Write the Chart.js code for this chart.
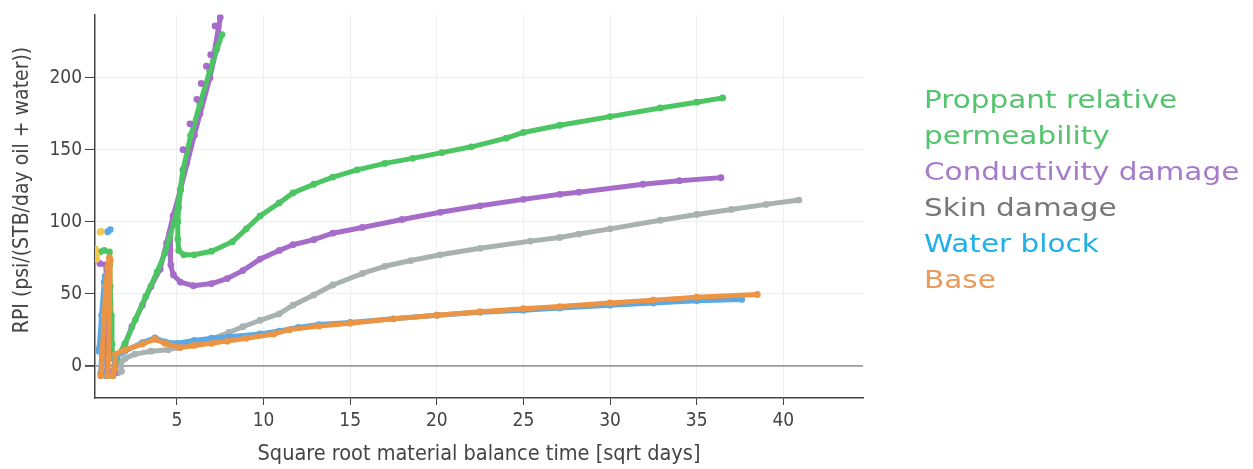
<!DOCTYPE html>
<html>
<head>
<meta charset="utf-8">
<script src="https://cdn.jsdelivr.net/npm/chart.js@4"></script>
<style>
  body { margin: 0; background: #fff; }
  #wrap { position: relative; width: 1253px; height: 469px; }
  #legend { position: absolute; left: 924px; top: 82px; font-family: "DejaVu Sans", sans-serif; font-size: 25px; line-height: 36px;
            transform: scaleX(1.18); transform-origin: left top; white-space: nowrap; }
</style>
</head>
<body>
<div id="wrap">
  <canvas id="myChart" width="1253" height="469"></canvas>
  <div id="legend">
    <div style="color:#55c46e">Proppant relative<br>permeability</div>
    <div style="color:#a77bcb">Conductivity damage</div>
    <div style="color:#777777">Skin damage</div>
    <div style="color:#1fb0e8">Water block</div>
    <div style="color:#eb9a5a">Base</div>
  </div>
</div>
<script>
// values, in drawing order along each curve
const proppantX = [0.55, 0.8, 1.1, 1.12, 1.15, 1.2, 1.25, 1.3, 1.5, 2.0, 2.6, 3.2, 3.85, 4.3, 4.6, 5.0, 5.35, 5.8, 6.33, 6.9, 7.3, 7.6,
  6.9, 6.33, 5.8, 5.35, 5.1, 5.05, 5.05, 5.1, 5.4, 6.0, 7.0, 8.2, 9.0, 9.8, 10.9, 11.7, 12.9, 14, 15.4, 17, 18.6, 20.3, 22, 24, 25, 27.1, 30, 32.9, 35, 36.5];
const proppantY = [79, 80, 79, 70, 55, 35, 15, 5, 4, 15, 32, 48, 65, 78, 90, 107, 136, 160, 182, 205, 220, 230,
  205, 182, 160, 136, 110, 100, 88, 80, 77, 77, 79.5, 86, 95, 104, 113, 120, 126, 131, 136, 140.5, 144, 148, 152, 158, 162, 167, 173, 179, 183, 186];

const conductX = [0.55, 0.9, 0.95, 0.9, 1.0, 1.4, 1.5, 2.0, 2.4, 3.0, 3.5, 4.03, 4.4, 4.78, 5.2, 5.57, 6.0, 6.33, 6.9, 7.3, 7.5,
  6.9, 6.0, 5.2, 4.78, 4.6, 4.6, 4.65, 4.8, 5.2, 5.95, 7.0, 7.9, 8.8, 9.8, 10.9, 11.7, 12.9, 14, 15.7, 18, 20.2, 22.5, 25, 27.1, 28.2, 31.9, 34, 36.4];
const conductY = [71, 70, 40, 15, -3, -5, 5, 15, 27, 42, 55, 67, 85, 104, 122, 141, 160, 175, 200, 221, 242,
  200, 160, 122, 104, 92, 80, 70, 63, 58, 55.5, 57, 60.5, 66, 74, 80, 84, 87.5, 92, 96, 101.5, 106.5, 111, 115.5, 119, 120.5, 126, 128.5, 130.6];
// loose purple dots scattered beside the steep branch
const conductNoiseX = [5.35, 5.75, 6.15, 6.4, 6.7, 6.95, 7.2];
const conductNoiseY = [150, 168, 185, 196, 208, 216, 236];

const skinX = [0.5, 0.85, 0.9, 0.9, 1.2, 1.6, 1.8, 1.75, 1.8, 2.0, 2.57, 3.5, 4.5, 5, 6, 6.9, 8, 8.8, 9.8, 10.9, 11.7, 12.9, 14, 15.7, 17, 18.5, 20.2, 22.5, 25.4, 27.1, 28.2, 30, 32.9, 35, 37, 39, 40.9];
const skinY = [12, 16, 5, -4, -5.5, -5, -4, 0, 3, 5, 8, 10, 11, 12.5, 15, 18, 23, 27, 31.5, 36, 42, 49, 56, 64, 69, 73, 77, 81.5, 86.5, 89, 91.4, 95, 101, 105, 108.5, 112, 115];

const waterX = [0.5, 0.65, 0.8, 0.85, 0.75, 0.6, 0.9, 1.3, 1.4, 1.45, 2.0, 3.0, 3.73, 4.3, 5.0, 6, 7, 8, 9.8, 10.9, 12, 13.2, 15, 17.5, 20, 22.5, 25, 27.1, 30, 32.5, 35, 37.6];
const waterY = [10, 35, 58, 62, 30, -5, -7, -7, 0, 6, 10, 16, 19.3, 16.5, 15.5, 17.5, 19, 20, 22, 24, 26.5, 28.5, 30, 32.5, 35, 37, 38.5, 40, 42, 43.5, 45, 46];
const waterTopX = [1.0, 1.15];
const waterTopY = [93, 94.5];

const baseX = [0.6, 0.7, 0.8, 0.9, 1.0, 1.1, 1.15, 1.1, 1.05, 1.0, 1.3, 1.4, 1.45, 2.0, 3.0, 3.73, 4.3, 5.2, 6, 7, 7.9, 9, 10.6, 11.5, 13.2, 15, 17.5, 20, 22.5, 25, 27.1, 30, 32.5, 35, 38.5];
const baseY = [-7, 10, 35, 55, 68, 75, 73, 40, 5, -7, -7, -3, 8, 11, 15, 18.3, 15.5, 12.5, 14, 15.5, 17, 19, 22, 25, 27.5, 29.5, 32.5, 35, 37.5, 39.5, 41, 43.5, 45.5, 47.5, 49.4];

const otherX = [0.56, 0.62, 0.3, 0.35, 0.38];
const otherY = [92.8, 93.2, 81, 77, 74];

const xTicks = [5, 10, 15, 20, 25, 30, 35, 40];
const yTicks = [0, 50, 100, 150, 200];

const axisFont = '"DejaVu Sans Condensed", "DejaVu Sans", sans-serif';

function pts(xs, ys) {
  return xs.map((x, i) => ({ x: x, y: ys[i] }));
}

function series(xs, ys, color, line) {
  return {
    data: pts(xs, ys),
    showLine: line,
    borderColor: color,
    backgroundColor: color,
    borderWidth: 5,
    borderJoinStyle: 'round',
    borderCapStyle: 'round',
    pointRadius: 3.4,
    pointBorderWidth: 0,
    pointHoverRadius: 3.4,
    tension: 0
  };
}

// y axis title drawn by hand so it can sit where the original has it
const yTitle = {
  id: 'yTitle',
  afterDraw(chart) {
    const c = chart.ctx;
    c.save();
    c.translate(23, 190);
    c.rotate(-Math.PI / 2);
    c.font = '21px ' + axisFont;
    c.fillStyle = '#444';
    c.textAlign = 'center';
    c.textBaseline = 'middle';
    c.fillText('RPI (psi/(STB/day oil + water))', 0, 0);
    c.restore();
  }
};

const ctx = document.getElementById('myChart').getContext('2d');

const myChart = new Chart(ctx, {
  type: 'scatter',
  data: {
    datasets: [
      series(skinX, skinY, '#a9b1b1', true),
      series(conductX, conductY, '#a66cc9', true),
      series(proppantX, proppantY, '#4cc563', true),
      series(conductNoiseX, conductNoiseY, '#a66cc9', false),
      series(waterX, waterY, '#5aa9e6', true),
      series(waterTopX, waterTopY, '#5aa9e6', false),
      series(baseX, baseY, '#ea9444', true),
      series(otherX, otherY, '#f5c94c', false)
    ].reverse()
  },
  options: {
    responsive: false,
    animation: false,
    layout: { padding: { left: 0, right: 390, top: 10, bottom: 0 } },
    plugins: { legend: { display: false }, tooltip: { enabled: false } },
    scales: {
      x: {
        type: 'linear',
        min: 0.27,
        max: 44.6,
        afterBuildTicks: s => { s.ticks = xTicks.map(v => ({ value: v })); },
        afterFit: s => { s.height = 71; },
        grid: { color: '#efefef', lineWidth: 1, tickLength: 7, tickColor: '#444' },
        border: { display: true, color: '#444', width: 1.5 },
        ticks: { font: { family: axisFont, size: 19 }, color: '#444', padding: 5, maxRotation: 0 },
        title: {
          display: true,
          text: 'Square root material balance time [sqrt days]',
          font: { family: axisFont, size: 21.5 },
          color: '#444',
          padding: { top: 0, bottom: 2 }
        }
      },
      y: {
        type: 'linear',
        min: -22.5,
        max: 244,
        afterBuildTicks: s => { s.ticks = yTicks.map(v => ({ value: v })); },
        afterFit: s => { s.width = 95; },
        grid: {
          color: c => (c.tick && c.tick.value === 0) ? '#9a9a9a' : '#efefef',
          lineWidth: c => (c.tick && c.tick.value === 0) ? 1.8 : 1,
          tickLength: 10,
          tickColor: '#444'
        },
        border: { display: true, color: '#444', width: 1.5 },
        ticks: { font: { family: axisFont, size: 19 }, color: '#444', padding: 3 }
      }
    }
  },
  plugins: [yTitle]
});
</script>
</body>
</html>
